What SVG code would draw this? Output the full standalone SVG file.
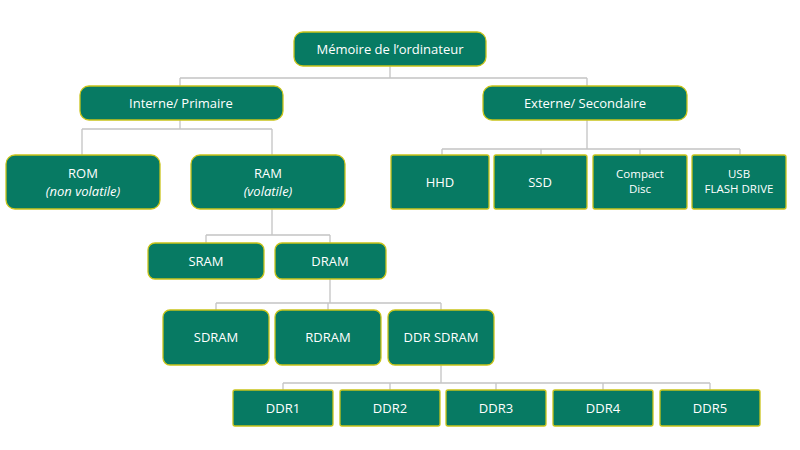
<svg xmlns="http://www.w3.org/2000/svg" width="800" height="450" viewBox="0 0 800 450">
<style>
.n{fill:#077a63;stroke:#c9c41a;stroke-width:1.3}
.t{fill:#fff;font-family:"Open Sans","Liberation Sans",sans-serif;font-size:13px;text-anchor:middle}
.s{font-size:11.5px}
.c{fill:none;stroke:#c4c4c4;stroke-width:1.3}
</style>
<rect width="800" height="450" fill="#fff"/>
<g id="connectors">
<path class="c" d="M390 66V78M180 78H587M180 78V86M587 78V86"/>
<path class="c" d="M180 120V129M82 129H272M82 129V155M272 129V155"/>
<path class="c" d="M587 120V149M442 149H740M442 149V155M541 149V155M640 149V155M740 149V155"/>
<path class="c" d="M272 209V235M206 235H330M206 235V243M330 235V243"/>
<path class="c" d="M330 279V303M216 303H441M216 303V310M328 303V310M441 303V310"/>
<path class="c" d="M441 365V383M283 383H710M283 383V390M390 383V390M496 383V390M603 383V390M710 383V390"/>
</g>
<g id="root"><rect class="n" x="294" y="32" width="192" height="34" rx="9"/><text class="t" x="390" y="54">Mémoire de l’ordinateur</text></g>
<g id="interne"><rect class="n" x="80" y="86" width="203" height="34" rx="9"/><text class="t" x="181" y="108">Interne/ Primaire</text></g>
<g id="externe"><rect class="n" x="483" y="86" width="204" height="34" rx="9"/><text class="t" x="585" y="108">Externe/ Secondaire</text></g>
<g id="rom"><rect class="n" x="6" y="155" width="154" height="54" rx="9"/><text class="t" x="83" y="178">ROM</text><text class="t" x="83" y="196" font-style="italic">(non volatile)</text></g>
<g id="ram"><rect class="n" x="191" y="155" width="154" height="54" rx="9"/><text class="t" x="268" y="178">RAM</text><text class="t" x="268" y="196" font-style="italic">(volatile)</text></g>
<g id="hhd"><rect class="n" x="391" y="155" width="98" height="54" rx="2"/><text class="t" x="440" y="187">HHD</text></g>
<g id="ssd"><rect class="n" x="494" y="155" width="93" height="54" rx="2"/><text class="t" x="540" y="187">SSD</text></g>
<g id="cd"><rect class="n" x="593" y="155" width="94" height="54" rx="2"/><text class="t s" x="640" y="178">Compact</text><text class="t s" x="640" y="193">Disc</text></g>
<g id="usb"><rect class="n" x="692" y="155" width="94" height="54" rx="2"/><text class="t s" x="739" y="178">USB</text><text class="t s" x="739" y="193">FLASH DRIVE</text></g>
<g id="sram"><rect class="n" x="148" y="243" width="116" height="36" rx="7"/><text class="t" x="206" y="266">SRAM</text></g>
<g id="dram"><rect class="n" x="275" y="243" width="111" height="36" rx="7"/><text class="t" x="330" y="266">DRAM</text></g>
<g id="sdram"><rect class="n" x="163" y="310" width="106" height="55" rx="7"/><text class="t" x="216" y="342">SDRAM</text></g>
<g id="rdram"><rect class="n" x="275" y="310" width="106" height="55" rx="7"/><text class="t" x="328" y="342">RDRAM</text></g>
<g id="ddrsdram"><rect class="n" x="388" y="310" width="106" height="55" rx="7"/><text class="t" x="441" y="342">DDR SDRAM</text></g>
<g id="ddr1"><rect class="n" x="233" y="390" width="100" height="36" rx="2"/><text class="t" x="283" y="413">DDR1</text></g>
<g id="ddr2"><rect class="n" x="340" y="390" width="100" height="36" rx="2"/><text class="t" x="390" y="413">DDR2</text></g>
<g id="ddr3"><rect class="n" x="446" y="390" width="100" height="36" rx="2"/><text class="t" x="496" y="413">DDR3</text></g>
<g id="ddr4"><rect class="n" x="553" y="390" width="100" height="36" rx="2"/><text class="t" x="603" y="413">DDR4</text></g>
<g id="ddr5"><rect class="n" x="660" y="390" width="100" height="36" rx="2"/><text class="t" x="710" y="413">DDR5</text></g>
</svg>
